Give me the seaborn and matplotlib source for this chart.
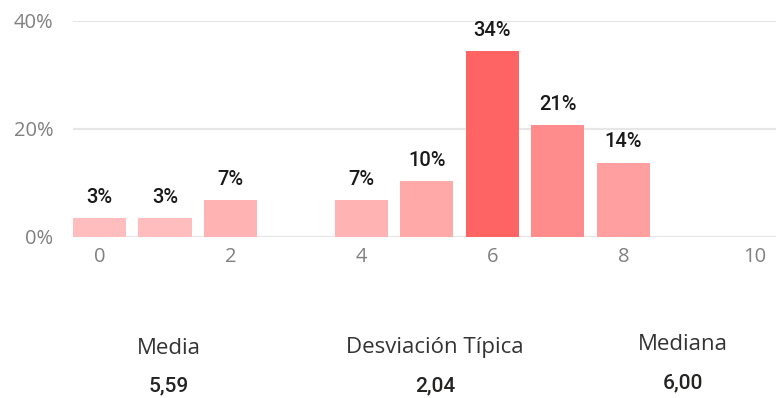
import numpy as np
import pandas as pd
import matplotlib
matplotlib.use("Agg")
import matplotlib.pyplot as plt
from matplotlib.colors import to_rgb
import seaborn as sns

# Score distribution (number of responses per score)
scores = [0, 1, 2, 4, 5, 6, 7, 8]
counts = [1, 1, 2, 2, 3, 10, 6, 4]
x_ticks = [0, 2, 4, 6, 8, 10]
y_ticks = [0, 20, 40]

# Summary statistics shown beneath the chart
stat_names = ["Media", "Desviación Típica", "Mediana"]
stat_values = ["5,59", "2,04", "6,00"]

total = sum(counts)
pct = [c / total * 100 for c in counts]
df = pd.DataFrame({"score": scores, "pct": pct})

# Colour gradient: light pink for small shares, strong red for the largest
lo, hi = np.array(to_rgb("#FFBDBD")), np.array(to_rgb("#FF6464"))
pmin, pmax = min(pct), max(pct)
colors = [tuple(lo + (hi - lo) * (p - pmin) / (pmax - pmin)) for p in pct]

sns.set_theme(style="white")
plt.rcParams["font.family"] = ["Open Sans", "DejaVu Sans"]

W, H = 776, 398
fig = plt.figure(figsize=(W / 100, H / 100), dpi=100)
ax = fig.add_axes([73 / W, 161 / H, 703 / W, 216 / H])

sns.barplot(data=df, x="score", y="pct", hue="score", palette=colors,
            native_scale=True, width=0.81, legend=False, ax=ax,
            saturation=1, linewidth=0)

ax.set_xlim(-0.405, 10.33)
ax.set_ylim(0, 40)
ax.set_xticks(x_ticks)
ax.set_xticklabels([str(t) for t in x_ticks])
ax.set_yticks(y_ticks)
ax.set_yticklabels([f"{t}%" for t in y_ticks])
ax.set_xlabel("")
ax.set_ylabel("")
for s in ax.spines.values():
    s.set_visible(False)
ax.grid(axis="y", color="#E6E6E6", linewidth=1.5)
ax.grid(axis="x", visible=False)
ax.set_axisbelow(True)
ax.tick_params(axis="both", length=0, labelsize=14.5, labelcolor="#808080")
ax.tick_params(axis="x", pad=7)
ax.tick_params(axis="y", pad=14)

# Value labels above the bars
label_font = ["Roboto", "DejaVu Sans"]
for sc, p in zip(scores, pct):
    ax.annotate(f"{p:.0f}%", (sc, p), xytext=(0, 8), textcoords="offset points",
                ha="center", va="bottom", fontsize=14.5, fontweight="medium",
                color="#1A1A1A", family=label_font, annotation_clip=False)

# Summary statistic cards
card_x = [169, 435, 683]
title_y = [348, 348, 344]
value_y = [386, 386, 383]
for name, val, cx, ty, vy in zip(stat_names, stat_values, card_x, title_y, value_y):
    fig.text(cx / W, 1 - ty / H, name, ha="center", va="center",
             fontsize=16, color="#333333")
    fig.text(cx / W, 1 - vy / H, val, ha="center", va="center",
             fontsize=15, fontweight="medium", color="#252423",
             family=label_font)

fig.savefig("out.png", dpi=100, facecolor="white")
